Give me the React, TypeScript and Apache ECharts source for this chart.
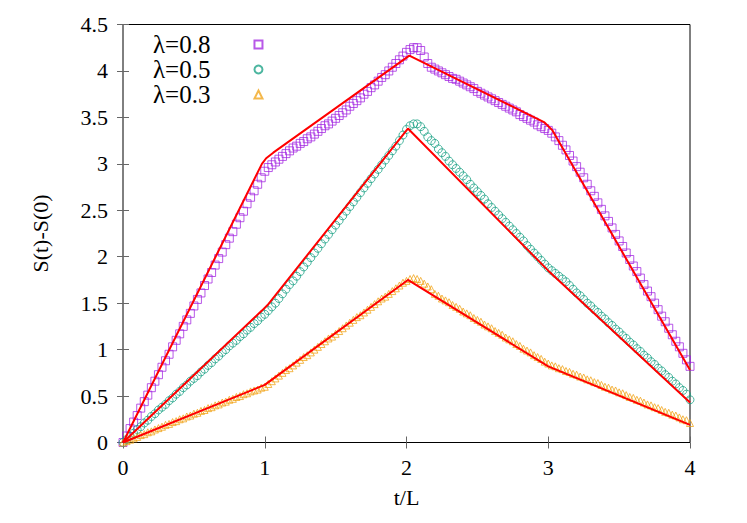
import React, { useEffect, useRef } from 'react';
import * as echarts from 'echarts';

// sampling step of the simulation data in t/L
const T_STEP = 0.025;

// λ=0.8 data (t = 0, 0.025, ..., 4)
const lambda08 = [
  0.00, 0.07, 0.15, 0.22, 0.29, 0.37, 0.44, 0.51, 0.59, 0.66, 0.73, 0.81, 0.88, 0.95, 1.03, 1.10, 1.17, 1.25, 1.32, 1.39,
  1.47, 1.54, 1.61, 1.69, 1.76, 1.83, 1.91, 1.98, 2.05, 2.13, 2.20, 2.27, 2.35, 2.42, 2.49, 2.57, 2.64, 2.71, 2.78, 2.85, 2.92,
  2.96, 2.99, 3.02, 3.05, 3.08, 3.11, 3.14, 3.17, 3.19, 3.22, 3.24, 3.27, 3.29, 3.32, 3.35, 3.38, 3.41, 3.43, 3.46, 3.49,
  3.52, 3.55, 3.58, 3.62, 3.65, 3.68, 3.71, 3.75, 3.78, 3.82, 3.85, 3.89, 3.93, 3.96, 4.00, 4.04, 4.08, 4.12, 4.16, 4.20,
  4.23, 4.25, 4.25, 4.22, 4.15, 4.08, 4.04, 4.02, 4.00, 3.98, 3.96, 3.94, 3.92, 3.91, 3.89, 3.87, 3.85, 3.83, 3.81, 3.78,
  3.76, 3.74, 3.72, 3.70, 3.68, 3.66, 3.64, 3.62, 3.60, 3.58, 3.56, 3.53, 3.51, 3.49, 3.47, 3.45, 3.42, 3.40, 3.38, 3.36,
  3.33, 3.29, 3.25, 3.20, 3.15, 3.09, 3.03, 2.97, 2.91, 2.85, 2.78, 2.71, 2.65, 2.58, 2.51, 2.44, 2.38, 2.31, 2.24, 2.17,
  2.11, 2.04, 1.97, 1.90, 1.84, 1.77, 1.70, 1.63, 1.57, 1.50, 1.43, 1.36, 1.30, 1.23, 1.16, 1.09, 1.03, 0.96, 0.89, 0.82,
];

// λ=0.5 data
const lambda05 = [
  0.00, 0.03, 0.07, 0.10, 0.14, 0.17, 0.21, 0.24, 0.28, 0.31, 0.35, 0.38, 0.41, 0.45, 0.48, 0.52, 0.55, 0.59, 0.62, 0.66,
  0.69, 0.72, 0.76, 0.79, 0.83, 0.86, 0.90, 0.93, 0.97, 1.00, 1.04, 1.07, 1.10, 1.14, 1.17, 1.21, 1.24, 1.28, 1.31, 1.35, 1.38,
  1.42, 1.46, 1.50, 1.55, 1.60, 1.65, 1.70, 1.74, 1.79, 1.84, 1.89, 1.94, 1.99, 2.04, 2.09, 2.14, 2.19, 2.24, 2.29, 2.34,
  2.39, 2.44, 2.49, 2.54, 2.59, 2.64, 2.69, 2.74, 2.79, 2.84, 2.89, 2.94, 2.99, 3.04, 3.09, 3.14, 3.19, 3.25, 3.31, 3.37,
  3.41, 3.43, 3.43, 3.40, 3.35, 3.29, 3.25, 3.22, 3.16, 3.12, 3.08, 3.03, 2.99, 2.95, 2.91, 2.87, 2.83, 2.78, 2.74, 2.70,
  2.66, 2.62, 2.57, 2.53, 2.49, 2.45, 2.41, 2.37, 2.33, 2.29, 2.25, 2.21, 2.17, 2.12, 2.08, 2.04, 2.00, 1.96, 1.92, 1.88,
  1.85, 1.82, 1.79, 1.76, 1.73, 1.69, 1.65, 1.61, 1.58, 1.54, 1.50, 1.47, 1.43, 1.40, 1.36, 1.33, 1.29, 1.26, 1.22, 1.19,
  1.15, 1.12, 1.08, 1.05, 1.01, 0.98, 0.94, 0.91, 0.87, 0.84, 0.80, 0.77, 0.73, 0.70, 0.66, 0.63, 0.59, 0.56, 0.52, 0.46,
];

// λ=0.3 data
const lambda03 = [
  0.00, 0.015, 0.03, 0.045, 0.06, 0.08, 0.09, 0.11, 0.12, 0.14, 0.155, 0.17, 0.19, 0.20, 0.22, 0.23, 0.25, 0.26, 0.28, 0.29,
  0.31, 0.32, 0.34, 0.35, 0.37, 0.38, 0.40, 0.41, 0.43, 0.44, 0.46, 0.47, 0.49, 0.50, 0.52, 0.53, 0.55, 0.56, 0.57, 0.59, 0.60,
  0.63, 0.66, 0.69, 0.72, 0.75, 0.78, 0.80, 0.83, 0.86, 0.89, 0.92, 0.94, 0.97, 1.00, 1.03, 1.06, 1.09, 1.12, 1.14, 1.17,
  1.20, 1.23, 1.26, 1.29, 1.32, 1.35, 1.37, 1.40, 1.43, 1.46, 1.49, 1.52, 1.55, 1.57, 1.60, 1.63, 1.66, 1.69, 1.72, 1.74,
  1.76, 1.77, 1.76, 1.74, 1.71, 1.68, 1.65, 1.60, 1.58, 1.55, 1.53, 1.51, 1.48, 1.46, 1.44, 1.41, 1.39, 1.37, 1.34, 1.32,
  1.30, 1.27, 1.25, 1.23, 1.20, 1.18, 1.16, 1.13, 1.11, 1.09, 1.06, 1.04, 1.01, 0.99, 0.97, 0.94, 0.92, 0.90, 0.87, 0.85,
  0.83, 0.82, 0.80, 0.79, 0.77, 0.76, 0.74, 0.73, 0.71, 0.70, 0.68, 0.67, 0.65, 0.64, 0.62, 0.60, 0.59, 0.57, 0.56, 0.54,
  0.53, 0.51, 0.49, 0.48, 0.46, 0.45, 0.43, 0.41, 0.40, 0.38, 0.37, 0.35, 0.33, 0.32, 0.30, 0.29, 0.27, 0.25, 0.24, 0.21,
];

// red fit curves [t, value]
const fit08 = [[0, 0], [0.98, 3.0], [1.01, 3.06], [1.06, 3.12], [2.02, 4.165], [2.97, 3.45], [3.03, 3.36], [4, 0.78]];
const fit05 = [[0, 0], [0.98, 1.42], [1.02, 1.48], [2.01, 3.38], [3.0, 1.85], [4, 0.43]];
const fit03 = [[0, 0], [1.0, 0.62], [2.01, 1.75], [3.0, 0.82], [4, 0.19]];

const seriesNames = ['λ=0.8', 'λ=0.5', 'λ=0.3'];
const xTicks = [0, 1, 2, 3, 4];
const yMax = 4.5;

const FONT = "'Liberation Serif', 'Times New Roman', serif";

function toPairs(vals: number[]) {
  return vals.map((v, i) => [+(i * T_STEP).toFixed(3), v]);
}

export default function App() {
  const ref = useRef<HTMLDivElement>(null);
  useEffect(() => {
    if (!ref.current) return;
    const chart = echarts.init(ref.current, undefined, { renderer: 'svg' });
    const tickStyle = { show: true, inside: true, length: 6, lineStyle: { color: '#666', width: 1 } };
    const markerSeries = (name: string, vals: number[], symbol: string, size: number, color: string) => ({
      name,
      type: 'scatter',
      data: toPairs(vals),
      symbol,
      symbolSize: size,
      itemStyle: { color: 'rgba(0,0,0,0)', borderColor: color, borderWidth: 1, opacity: 0.75 },
      z: 2,
    });
    const fitSeries = (data: number[][]) => ({
      type: 'line',
      data,
      showSymbol: false,
      symbol: 'none',
      lineStyle: { color: '#ff0000', width: 2 },
      z: 5,
      silent: true,
    });
    chart.setOption({
      animation: false,
      backgroundColor: '#fff',
      grid: { left: 123, top: 24.5, width: 567, height: 418, show: true, borderColor: '#000', borderWidth: 1, backgroundColor: 'transparent' },
      legend: {
        data: seriesNames,
        orient: 'vertical',
        left: 148,
        top: 27,
        align: 'right',
        itemGap: 0,
        itemWidth: 8,
        itemHeight: 8,
        textStyle: { fontFamily: FONT, fontSize: 25, color: '#000', lineHeight: 25, padding: [0, 39, 0, 0] },
      },
      xAxis: [
        {
          type: 'value', min: xTicks[0], max: xTicks[xTicks.length - 1], interval: 1,
          name: 't/L', nameLocation: 'middle', nameGap: 44,
          nameTextStyle: { fontFamily: FONT, fontSize: 22, color: '#000' },
          axisLine: { show: false }, axisTick: tickStyle, splitLine: { show: false },
          axisLabel: { fontFamily: FONT, fontSize: 22, color: '#000', margin: 14 },
        },
        {
          type: 'value', position: 'top', min: xTicks[0], max: xTicks[xTicks.length - 1], interval: 1,
          axisLine: { show: false }, axisTick: tickStyle, splitLine: { show: false }, axisLabel: { show: false },
        },
      ],
      yAxis: [
        {
          type: 'value', min: 0, max: yMax, interval: 0.5,
          name: 'S(t)-S(0)', nameLocation: 'middle', nameGap: 72,
          nameTextStyle: { fontFamily: FONT, fontSize: 22, color: '#000' },
          axisLine: { show: false }, axisTick: tickStyle, splitLine: { show: false },
          axisLabel: { fontFamily: FONT, fontSize: 22, color: '#000', margin: 15 },
        },
        {
          type: 'value', position: 'right', min: 0, max: yMax, interval: 0.5,
          axisLine: { show: false }, axisTick: tickStyle, splitLine: { show: false }, axisLabel: { show: false },
        },
      ],
      series: [
        markerSeries(seriesNames[0], lambda08, 'rect', 8, '#a020e0'),
        markerSeries(seriesNames[1], lambda05, 'circle', 8, '#119e80'),
        markerSeries(seriesNames[2], lambda03, 'triangle', 7, '#f0a010'),
        fitSeries(fit08),
        fitSeries(fit05),
        fitSeries(fit03),
      ],
    });
    return () => chart.dispose();
  }, []);
  return <div ref={ref} style={{ position: 'fixed', left: 0, top: 0, width: 747, height: 523 }} />;
}
